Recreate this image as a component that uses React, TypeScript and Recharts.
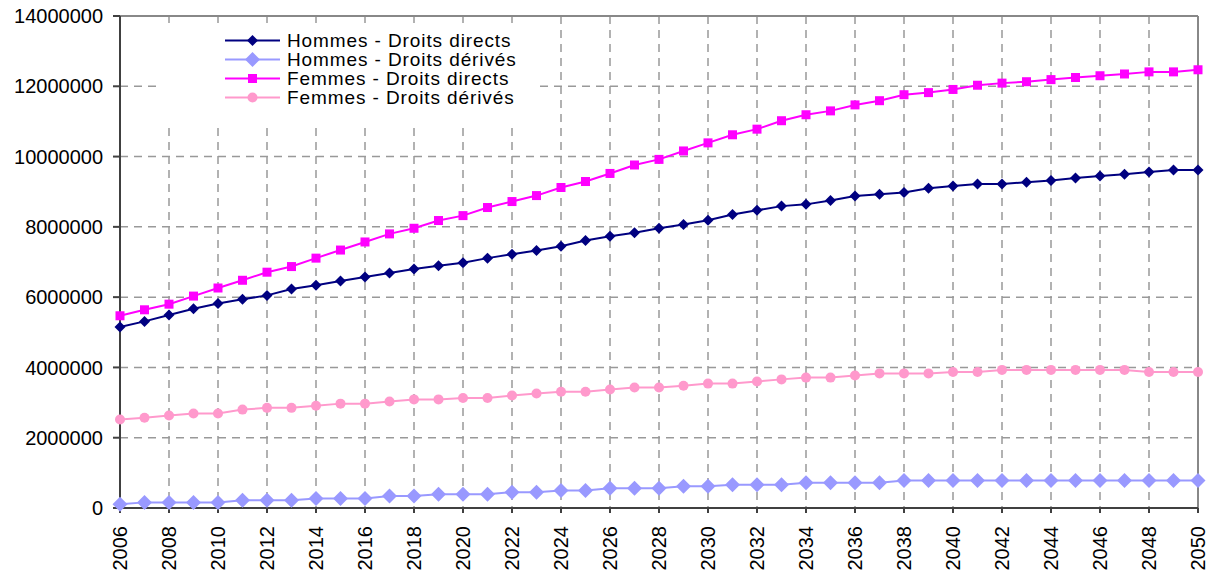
import {
  CartesianGrid,
  Legend,
  Line,
  LineChart,
  ReferenceLine,
  XAxis,
  YAxis,
} from "recharts";

// projection years
const years = [
  2006, 2007, 2008, 2009, 2010, 2011, 2012, 2013, 2014, 2015, 2016, 2017,
  2018, 2019, 2020, 2021, 2022, 2023, 2024, 2025, 2026, 2027, 2028, 2029,
  2030, 2031, 2032, 2033, 2034, 2035, 2036, 2037, 2038, 2039, 2040, 2041,
  2042, 2043, 2044, 2045, 2046, 2047, 2048, 2049, 2050,
];

const hommesDirects = [
  5150000, 5310000, 5490000, 5670000, 5820000, 5940000, 6050000, 6230000,
  6340000, 6460000, 6570000, 6690000, 6800000, 6890000, 6980000, 7110000,
  7220000, 7330000, 7450000, 7610000, 7730000, 7830000, 7960000, 8070000,
  8190000, 8350000, 8470000, 8590000, 8640000, 8750000, 8880000, 8930000,
  8980000, 9100000, 9160000, 9220000, 9220000, 9270000, 9320000, 9390000,
  9450000, 9500000, 9560000, 9620000, 9620000,
];

const hommesDerives = [
  110000, 160000, 160000, 160000, 160000, 220000, 220000, 220000, 270000,
  270000, 270000, 340000, 340000, 390000, 390000, 390000, 450000, 450000,
  500000, 500000, 560000, 560000, 560000, 620000, 620000, 660000, 660000,
  660000, 720000, 720000, 720000, 720000, 780000, 780000, 780000, 780000,
  780000, 780000, 780000, 780000, 780000, 780000, 780000, 780000, 780000,
];

const femmesDirects = [
  5470000, 5640000, 5800000, 6030000, 6260000, 6480000, 6710000, 6870000,
  7110000, 7340000, 7570000, 7800000, 7960000, 8180000, 8320000, 8550000,
  8720000, 8890000, 9120000, 9290000, 9520000, 9760000, 9920000, 10160000,
  10390000, 10620000, 10780000, 11020000, 11190000, 11300000, 11470000,
  11590000, 11760000, 11820000, 11910000, 12030000, 12090000, 12130000,
  12190000, 12250000, 12300000, 12350000, 12410000, 12410000, 12470000,
];

const femmesDerives = [
  2520000, 2570000, 2630000, 2690000, 2690000, 2800000, 2850000, 2850000,
  2910000, 2970000, 2970000, 3030000, 3090000, 3090000, 3130000, 3130000,
  3200000, 3260000, 3310000, 3310000, 3370000, 3430000, 3430000, 3480000,
  3540000, 3540000, 3600000, 3660000, 3710000, 3710000, 3770000, 3830000,
  3830000, 3830000, 3870000, 3870000, 3930000, 3930000, 3930000, 3930000,
  3930000, 3930000, 3870000, 3870000, 3870000,
];

const xTicks = [
  2006, 2008, 2010, 2012, 2014, 2016, 2018, 2020, 2022, 2024, 2026, 2028,
  2030, 2032, 2034, 2036, 2038, 2040, 2042, 2044, 2046, 2048, 2050,
];
const yTicks = [
  0, 2000000, 4000000, 6000000, 8000000, 10000000, 12000000, 14000000,
];

const data = years.map((annee, i) => ({
  annee,
  hommesDirects: hommesDirects[i],
  hommesDerives: hommesDerives[i],
  femmesDirects: femmesDirects[i],
  femmesDerives: femmesDerives[i],
}));

const FONT = "'Liberation Sans', Arial, sans-serif";

type MarkerKind = "diamond" | "bigDiamond" | "square" | "circle";

const series: {
  key: string;
  name: string;
  color: string;
  marker: MarkerKind;
}[] = [
  { key: "hommesDirects", name: "Hommes - Droits directs", color: "#000080", marker: "diamond" },
  { key: "hommesDerives", name: "Hommes - Droits dérivés", color: "#9999FF", marker: "bigDiamond" },
  { key: "femmesDirects", name: "Femmes - Droits directs", color: "#FF00FF", marker: "square" },
  { key: "femmesDerives", name: "Femmes - Droits dérivés", color: "#FF99CC", marker: "circle" },
];

function Marker({ kind, cx, cy, color }: { kind: MarkerKind; cx: number; cy: number; color: string }) {
  if (kind === "diamond" || kind === "bigDiamond") {
    const r = kind === "diamond" ? 5.5 : 7.5;
    return (
      <polygon
        points={`${cx},${cy - r} ${cx + r},${cy} ${cx},${cy + r} ${cx - r},${cy}`}
        fill={color}
      />
    );
  }
  if (kind === "square") {
    return <rect x={cx - 4.5} y={cy - 4.5} width={9} height={9} fill={color} />;
  }
  return <circle cx={cx} cy={cy} r={5} fill={color} />;
}

const makeDot = (kind: MarkerKind, color: string) => (props: any) => {
  const { cx, cy, index } = props;
  if (cx == null || cy == null) return <g key={index} />;
  return <Marker key={index} kind={kind} cx={cx} cy={cy} color={color} />;
};

// year labels rotated vertically under the axis
const YearTick = (props: any) => {
  const { x, y, payload } = props;
  return (
    <text
      x={x}
      y={y + 11}
      transform={`rotate(-90, ${x}, ${y + 11})`}
      textAnchor="end"
      dy="0.36em"
      fontSize={20}
      fontFamily={FONT}
      fill="#000"
    >
      {payload.value}
    </text>
  );
};

const renderLegend = () => (
  <div
    style={{
      background: "#fff",
      width: 382,
      height: 102,
      boxSizing: "border-box",
      paddingTop: 8,
      fontFamily: FONT,
    }}
  >
    {series.map((s) => (
      <div
        key={s.key}
        style={{ display: "flex", alignItems: "center", height: 19 }}
      >
        <svg width={62} height={19} style={{ marginLeft: 67 }}>
          <line x1={0} y1={9.5} x2={55} y2={9.5} stroke={s.color} strokeWidth={2} />
          <Marker kind={s.marker} cx={27.5} cy={9.5} color={s.color} />
        </svg>
        <span
          style={{
            fontSize: 19,
            lineHeight: "19px",
            letterSpacing: 0.9,
            color: "#000",
            whiteSpace: "nowrap",
          }}
        >
          {s.name}
        </span>
      </div>
    ))}
  </div>
);

export default function App() {
  return (
    <div style={{ position: "absolute", left: 0, top: 0, width: 1218, height: 581, background: "#fff" }}>
      <LineChart
        width={1218}
        height={581}
        data={data}
        margin={{ top: 16, right: 20, bottom: 0, left: 0 }}
        style={{ fontFamily: FONT }}
      >
        <CartesianGrid stroke="#999" strokeDasharray="8 6" strokeWidth={1.5} />
        <XAxis
          dataKey="annee"
          type="number"
          domain={[2006, 2050]}
          ticks={xTicks}
          interval={0}
          height={73}
          tickSize={5}
          stroke="#404040"
          strokeWidth={2}
          tick={<YearTick />}
        />
        <YAxis
          type="number"
          domain={[0, 14000000]}
          ticks={yTicks}
          interval={0}
          width={120}
          tickSize={7}
          tickMargin={10}
          stroke="#404040"
          strokeWidth={2}
          tick={{ fill: "#000", fontSize: 20, fontFamily: FONT }}
        />
        <ReferenceLine y={14000000} stroke="#888" strokeWidth={2} />
        <ReferenceLine x={2050} stroke="#888" strokeWidth={2} />
        <Legend
          layout="vertical"
          align="center"
          verticalAlign="middle"
          content={renderLegend}
          wrapperStyle={{ left: 158, top: 23, width: 382, height: 102 }}
        />
        {series.map((s) => (
          <Line
            key={s.key}
            dataKey={s.key}
            name={s.name}
            type="linear"
            stroke={s.color}
            strokeWidth={2}
            dot={makeDot(s.marker, s.color)}
            activeDot={false}
            isAnimationActive={false}
          />
        ))}
      </LineChart>
    </div>
  );
}
